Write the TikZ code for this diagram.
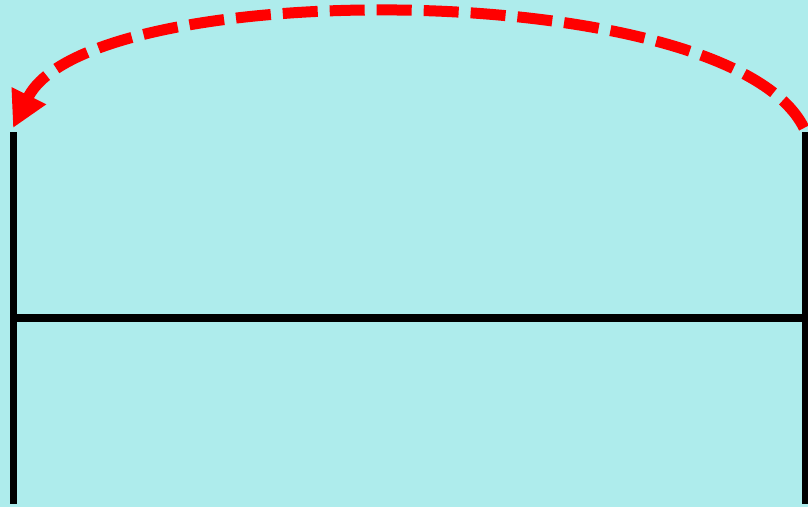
\documentclass[tikz,border=0pt]{standalone}
\usetikzlibrary{arrows.meta}
\definecolor{paleaqua}{HTML}{AEECEC}
\definecolor{loopred}{HTML}{FF0000}

\begin{document}
\begin{tikzpicture}[
      x=1pt, y=-1pt,
      post/.style={draw=black, line width=7pt},
      jump/.style={draw=loopred, line width=11pt, dash pattern=on 35pt off 12pt,
        -{Triangle[length=36pt, width=36pt]}}
    ]
    \fill[paleaqua] (0,0) rectangle (808,507);
    \useasboundingbox (0,0) rectangle (808,507);
    % posts and crossbar
    \coordinate (lt) at (13,132);
    \coordinate (lb) at (13,504);
    \coordinate (rt) at (805,132);
    \coordinate (rb) at (805,504);
    \coordinate (lm) at (13,318);
    \coordinate (rm) at (805,318);
    \draw[post] (lt) -- (lb);
    \draw[post] (rt) -- (rb);
    \draw[post, line width=8pt] (lm) -- (rm);
    % dashed return arrow over the top
    \coordinate (from) at (804,128);
    \coordinate (to) at (13,128);
    \draw[jump] (from) .. controls (729,-24) and (88,-24) .. (to);
  \end{tikzpicture}
\end{document}
